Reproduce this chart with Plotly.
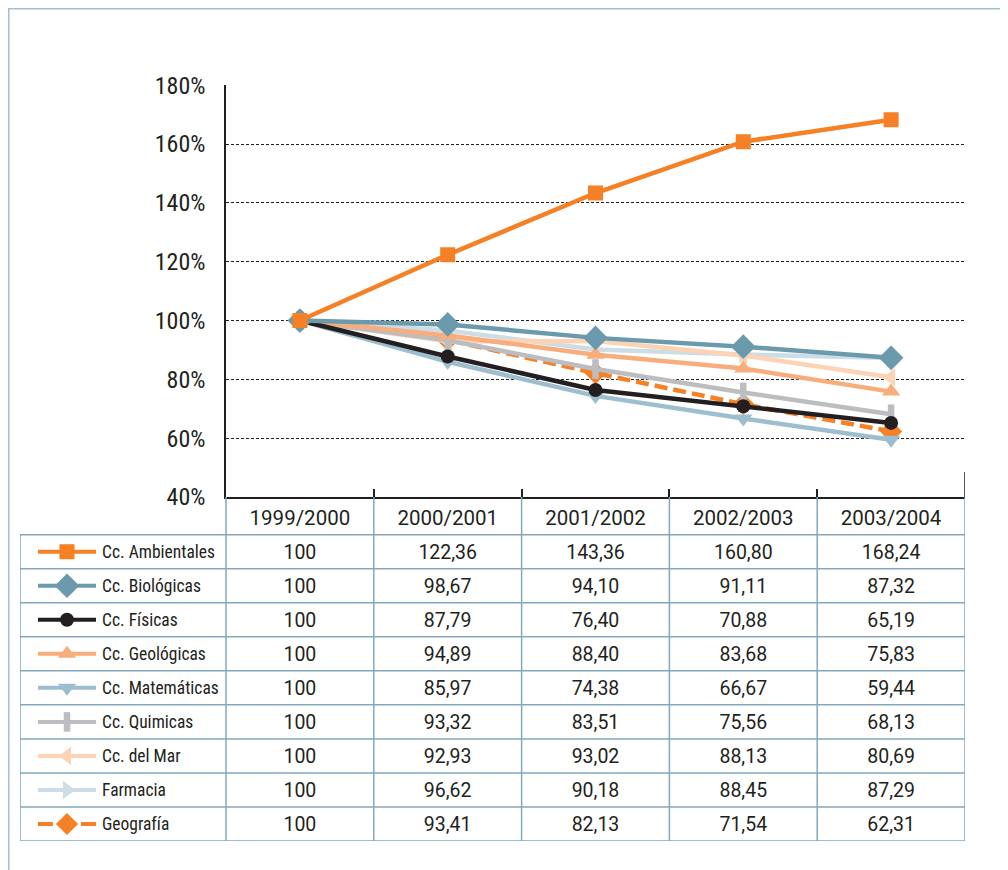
import plotly.graph_objects as go

# ---------------- data ----------------
periods = ["1999/2000", "2000/2001", "2001/2002", "2002/2003", "2003/2004"]
series_names = ["Cc. Ambientales", "Cc. Biológicas", "Cc. Físicas", "Cc. Geológicas",
                "Cc. Matemáticas", "Cc. Quimicas", "Cc. del Mar", "Farmacia", "Geografía"]
ambientales = [100, 122.36, 143.36, 160.80, 168.24]
biologicas = [100, 98.67, 94.10, 91.11, 87.32]
fisicas = [100, 87.79, 76.40, 70.88, 65.19]
geologicas = [100, 94.89, 88.40, 83.68, 75.83]
matematicas = [100, 85.97, 74.38, 66.67, 59.44]
quimicas = [100, 93.32, 83.51, 75.56, 68.13]
del_mar = [100, 92.93, 93.02, 88.13, 80.69]
farmacia = [100, 96.62, 90.18, 88.45, 87.29]
geografia = [100, 93.41, 82.13, 71.54, 62.31]
y_ticks = [40, 60, 80, 100, 120, 140, 160, 180]

series_values = [ambientales, biologicas, fisicas, geologicas, matematicas,
                 quimicas, del_mar, farmacia, geografia]

# ---------------- styles ----------------
ORANGE = "#f58025"
styles = [
    dict(color=ORANGE, symbol="square", size=15, dash="solid"),
    dict(color="#6b9aad", symbol="diamond", size=19, dash="solid"),
    dict(color="#231f20", symbol="circle", size=14, dash="solid"),
    dict(color="#f8ad7c", symbol="triangle-up", size=16, dash="solid"),
    dict(color="#9dbece", symbol="triangle-down", size=16, dash="solid"),
    dict(color="#bbbdc0", symbol="line-ns", size=14, dash="solid"),
    dict(color="#fdd3b5", symbol="triangle-left", size=16, dash="solid"),
    dict(color="#ccdde6", symbol="triangle-right", size=16, dash="solid"),
    dict(color=ORANGE, symbol="diamond", size=17, dash="13px,6px"),
]

F_TICK = "Roboto Condensed, Roboto, sans-serif"
F_NUM = "Roboto, sans-serif"
F_LEG = "Roboto Condensed, Roboto, sans-serif"
TEXT = "#231f20"
GRID = "#82a8bd"

# page has an 8px body margin; reference pixel p -> figure pixel p - OFF
OFF = 8
W, H = 1000, 862

# layout in reference pixels
PX_L, PX_R = 226, 965          # plot area left/right
PX_T, PX_B = 84.5, 497         # plot area top/bottom
TBL_L, TBL_B = 20, 841         # table left / bottom
HDR_B = 534.7                  # header bottom
cat_px = (PX_R - PX_L) / len(periods)
row_px = (TBL_B - HDR_B) / len(series_names)
x2_min = -0.5 - (PX_L - TBL_L) / cat_px
y2_top = 0.5 - (HDR_B - PX_B) / row_px
TXT_DY = 2.0 / row_px          # small downward nudge of table text


def fx(p):
    return (p - OFF) / W


def fy(p):
    return 1 - (p - OFF) / H


def px2x(p):
    return -0.5 + (p - PX_L) / cat_px


def fmt(v):
    if float(v).is_integer():
        return str(int(v))
    return f"{v:.2f}".replace(".", ",")


def marker_for(s):
    if s["symbol"] == "line-ns":
        return dict(symbol="line-ns", size=s["size"], line=dict(width=6.5, color=s["color"]))
    return dict(symbol=s["symbol"], size=s["size"], color=s["color"], line=dict(width=0))


fig = go.Figure()

# main lines (reverse order so the first series is on top)
for i in reversed(range(len(series_names))):
    s = styles[i]
    fig.add_trace(go.Scatter(
        x=periods, y=series_values[i], mode="lines+markers",
        line=dict(color=s["color"], width=4.5, dash=s["dash"]),
        marker=marker_for(s), xaxis="x", yaxis="y", showlegend=False, hoverinfo="skip"))

# ---------------- data table ----------------
fig.add_trace(go.Scatter(
    x=list(range(len(periods))), y=[TXT_DY] * len(periods), text=periods, mode="text",
    textfont=dict(family=F_NUM, size=20.5, color=TEXT), xaxis="x2", yaxis="y2",
    showlegend=False, hoverinfo="skip"))

for i, vals in enumerate(series_values):
    fig.add_trace(go.Scatter(
        x=list(range(len(vals))), y=[i + 1 + TXT_DY] * len(vals), text=[fmt(v) for v in vals],
        mode="text", textfont=dict(family=F_NUM, size=19.5, color=TEXT),
        xaxis="x2", yaxis="y2", showlegend=False, hoverinfo="skip"))

fig.add_trace(go.Scatter(
    x=[px2x(102)] * len(series_names), y=[k + 1 + TXT_DY for k in range(len(series_names))],
    text=series_names, mode="text", textposition="middle right",
    textfont=dict(family=F_LEG, size=17.5, color=TEXT),
    xaxis="x2", yaxis="y2", showlegend=False, hoverinfo="skip"))

# legend keys in the table
for i, s in enumerate(styles):
    dash = "15px,28px" if s["dash"] != "solid" else "solid"
    fig.add_trace(go.Scatter(
        x=[px2x(38), px2x(96)], y=[i + 1, i + 1], mode="lines",
        line=dict(color=s["color"], width=4, dash=dash),
        xaxis="x2", yaxis="y2", showlegend=False, hoverinfo="skip"))
    fig.add_trace(go.Scatter(
        x=[px2x(67)], y=[i + 1], mode="markers", marker=marker_for(s),
        xaxis="x2", yaxis="y2", showlegend=False, hoverinfo="skip"))

shapes = []
n = len(series_names)
for r in range(n + 1):
    shapes.append(dict(type="line", xref="x2", yref="y2", x0=x2_min, x1=len(periods) - 0.5,
                       y0=r + 0.5, y1=r + 0.5, line=dict(color=GRID, width=1.5)))
shapes.append(dict(type="line", xref="x2", yref="y2", x0=x2_min, x1=x2_min,
                   y0=0.5, y1=n + 0.5, line=dict(color=GRID, width=1.5)))
for c in range(len(periods) + 1):
    shapes.append(dict(type="line", xref="x2", yref="y2", x0=c - 0.5, x1=c - 0.5,
                       y0=y2_top, y1=n + 0.5, line=dict(color=GRID, width=1.5)))
# short right-edge mark on the chart
shapes.append(dict(type="line", xref="x", yref="y", x0=4.5, x1=4.5, y0=40, y1=48.5,
                   line=dict(color=TEXT, width=1.5)))
# page frame
shapes.append(dict(type="line", xref="paper", yref="paper", x0=0, x1=1,
                   y0=1 - 0.8 / H, y1=1 - 0.8 / H, line=dict(color="#a3c1cf", width=1.5)))
shapes.append(dict(type="line", xref="paper", yref="paper", x0=0.8 / W, x1=0.8 / W,
                   y0=0, y1=1, line=dict(color="#a3c1cf", width=1.5)))

fig.update_layout(
    width=W, height=H, margin=dict(l=0, r=0, t=0, b=0, autoexpand=False),
    paper_bgcolor="white", plot_bgcolor="white",
    font=dict(family=F_NUM, color=TEXT),
    shapes=shapes,
    xaxis=dict(domain=[fx(PX_L), fx(PX_R)], type="category", range=[-0.5, 4.5],
               tickson="boundaries", ticks="inside", ticklen=8, tickwidth=1.5,
               tickcolor=TEXT, showticklabels=False, showline=True, linecolor=TEXT,
               linewidth=1.5, showgrid=False, zeroline=False, anchor="y",
               automargin=False, fixedrange=True),
    yaxis=dict(domain=[fy(PX_B), fy(PX_T)], range=[40, 180.25], tickvals=y_ticks,
               ticktext=[f"{v}%" for v in y_ticks],
               showgrid=True, gridcolor=TEXT, gridwidth=1,
               griddash="3px,2px", showline=True, linecolor=TEXT, linewidth=1.5,
               ticks="", ticklabelstandoff=14, tickfont=dict(family=F_TICK, size=24, color=TEXT),
               zeroline=False, anchor="x", automargin=False, fixedrange=True),
    xaxis2=dict(domain=[fx(TBL_L), fx(PX_R)], range=[x2_min, 4.5], visible=False,
                anchor="y2", automargin=False, fixedrange=True),
    yaxis2=dict(domain=[fy(TBL_B), fy(PX_B)], range=[n + 0.5, y2_top],
                visible=False, anchor="x2", automargin=False, fixedrange=True),
)

fig.write_html("out.html")
